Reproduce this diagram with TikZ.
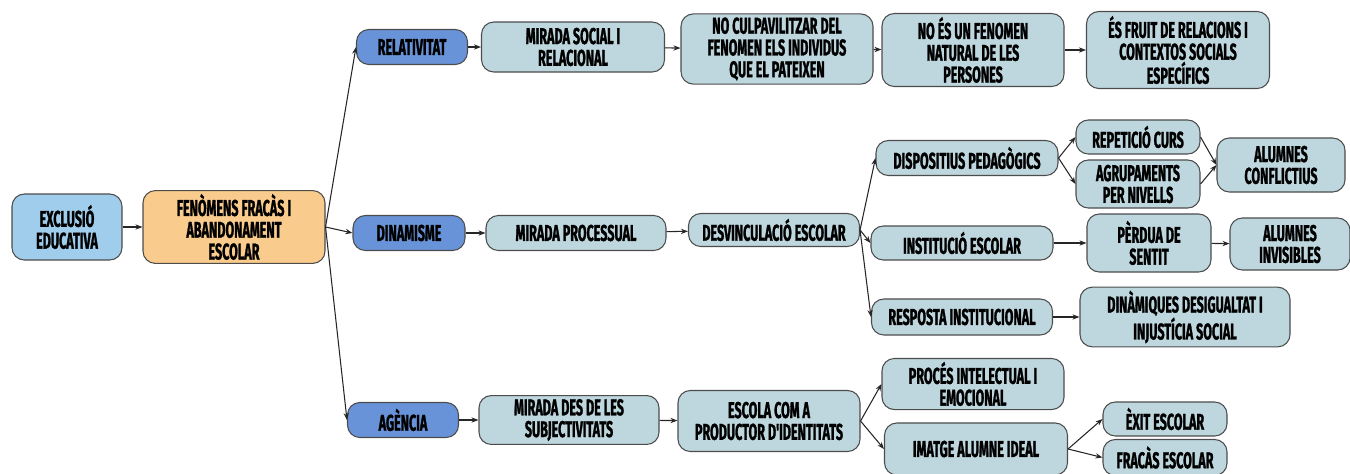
\documentclass[tikz,border=0pt]{standalone}
\usepackage{fontspec}
\newfontfamily\boxfont[FakeStretch=0.55, BoldFeatures={FakeBold=1.2}]{Fira Sans}
\usetikzlibrary{arrows.meta}
\definecolor{rootblue}{RGB}{160,205,235}
\definecolor{fenorange}{RGB}{249,203,140}
\definecolor{axisblue}{RGB}{104,147,216}
\definecolor{leafgray}{RGB}{190,215,222}
\begin{document}
\begin{tikzpicture}[
    box/.style={draw=black!70, line width=0.6pt, rounded corners=7pt, align=center,
      inner sep=2pt, font=\boxfont\bfseries\fontsize{13}{12.4}\selectfont, fill=leafgray},
    axis/.style={box, fill=axisblue},
    link/.style={-{Stealth[length=4pt,width=3pt]}, line width=0.6pt, black!85}
  ]
  \useasboundingbox (0,0) rectangle (27,-9.46);
  % root and main phenomenon
  \node[box, fill=rootblue, minimum width=2.2cm, minimum height=1.32cm] (exc) at (1.34,-4.54) {EXCLUSIÓ\\EDUCATIVA};
  \node[box, fill=fenorange, minimum width=3.64cm, minimum height=1.32cm] (fen) at (4.68,-4.54) {FENÒMENS FRACÀS I\\ABANDONAMENT\\ESCOLAR};
  % three axes
  \node[axis, minimum width=2.22cm, minimum height=0.7cm] (rel) at (8.24,-0.94) {RELATIVITAT};
  \node[axis, minimum width=2.24cm, minimum height=0.7cm] (din) at (8.18,-4.66) {DINAMISME};
  \node[axis, minimum width=2.22cm, minimum height=0.7cm] (age) at (8.06,-8.4) {AGÈNCIA};
  % relativitat
  \node[box, minimum width=3.66cm, minimum height=1.0cm] (msr) at (11.46,-0.94) {MIRADA SOCIAL I\\RELACIONAL};
  \node[box, minimum width=3.84cm, minimum height=1.4cm] (ncu) at (15.54,-0.98) {NO CULPAVILITZAR DEL\\FENOMEN ELS INDIVIDUS\\QUE EL PATEIXEN};
  \node[box, minimum width=3.64cm, minimum height=1.46cm] (nes) at (19.46,-1.0) {NO ÉS UN FENOMEN\\NATURAL DE LES\\PERSONES};
  \node[box, minimum width=3.66cm, minimum height=1.54cm] (esf) at (23.56,-1.0) {ÉS FRUIT DE RELACIONS I\\CONTEXTOS SOCIALS\\ESPECÍFICS};
  % dinamisme
  \node[box, minimum width=3.6cm, minimum height=0.7cm] (mpr) at (11.52,-4.66) {MIRADA PROCESSUAL};
  \node[box, minimum width=3.42cm, minimum height=0.66cm] (des) at (15.48,-4.6) {DESVINCULACIÓ ESCOLAR};
  \node[box, minimum width=3.64cm, minimum height=0.7cm] (dis) at (19.34,-3.16) {DISPOSITIUS PEDAGÒGICS};
  \node[box, minimum width=2.48cm, minimum height=0.68cm] (rep) at (22.76,-2.74) {REPETICIÓ CURS};
  \node[box, minimum width=2.48cm, minimum height=0.96cm] (agr) at (22.76,-3.68) {AGRUPAMENTS\\PER NIVELLS};
  \node[box, minimum width=2.56cm, minimum height=1.08cm] (acf) at (25.62,-3.3) {ALUMNES\\CONFLICTIUS};
  \node[box, minimum width=3.64cm, minimum height=0.68cm] (ins) at (19.24,-4.86) {INSTITUCIÓ ESCOLAR};
  \node[box, minimum width=2.48cm, minimum height=1.16cm] (per) at (22.98,-4.86) {PÈRDUA DE\\SENTIT};
  \node[box, minimum width=2.4cm, minimum height=1.04cm] (inv) at (25.8,-4.88) {ALUMNES\\INVISIBLES};
  \node[box, minimum width=3.62cm, minimum height=0.72cm] (res) at (19.24,-6.34) {RESPOSTA INSTITUCIONAL};
  \node[box, minimum width=4.2cm, minimum height=1.0cm] (dig) at (23.7,-6.34) {DINÀMIQUES DESIGUALTAT I\\INJUSTÍCIA SOCIAL};
  % agencia
  \node[box, minimum width=3.6cm, minimum height=0.94cm] (msu) at (11.38,-8.4) {MIRADA DES DE LES\\SUBJECTIVITATS};
  \node[box, minimum width=3.64cm, minimum height=1.22cm] (epi) at (15.38,-8.42) {ESCOLA COM A\\PRODUCTOR D'IDENTITATS};
  \node[box, minimum width=3.64cm, minimum height=0.94cm] (pie) at (19.46,-7.68) {PROCÉS INTELECTUAL I\\EMOCIONAL};
  \node[box, minimum width=3.66cm, minimum height=1.04cm] (ima) at (19.52,-8.98) {IMATGE ALUMNE IDEAL};
  \node[box, minimum width=2.48cm, minimum height=0.68cm] (exi) at (23.3,-8.38) {ÈXIT ESCOLAR};
  \node[box, minimum width=2.48cm, minimum height=0.72cm] (frc) at (23.3,-9.15) {FRACÀS ESCOLAR};

  \draw[link] (exc) -- (fen);
  \draw[link] (fen.east) -- (rel.west);
  \draw[link] (fen.east) -- (din.west);
  \draw[link] (fen.east) -- (age.west);
  \draw[link] (rel) -- (msr);
  \draw[link] (msr) -- (ncu);
  \draw[link] (ncu) -- (nes);
  \draw[link] (nes) -- (esf);
  \draw[link] (din) -- (mpr);
  \draw[link] (mpr) -- (des);
  \draw[link] (des.east) -- (dis.west);
  \draw[link] (des.east) -- (ins.west);
  \draw[link] (des.east) -- (res.west);
  \draw[link] (dis.east) -- (rep.west);
  \draw[link] (dis.east) -- (agr.west);
  \draw[link] (rep.east) -- (acf.west);
  \draw[link] (agr.east) -- (acf.west);
  \draw[link] (ins) -- (per);
  \draw[link] (per) -- (inv);
  \draw[link] (res) -- (dig);
  \draw[link] (age) -- (msu);
  \draw[link] (msu) -- (epi);
  \draw[link] (epi.east) -- (pie.west);
  \draw[link] (epi.east) -- (ima.west);
  \draw[link] (ima.east) -- (exi.west);
  \draw[link] (ima.east) -- (frc.west);
\end{tikzpicture}
\end{document}
